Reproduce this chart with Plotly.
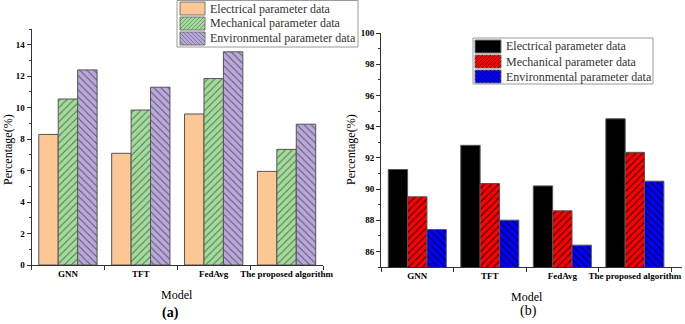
import plotly.graph_objects as go

models = ["GNN", "TFT", "FedAvg", "The proposed algorithm"]
series_names = ["Electrical parameter data", "Mechanical parameter data", "Environmental parameter data"]

# Panel (a)
a_electrical = [8.3, 7.1, 9.6, 5.95]
a_mechanical = [10.55, 9.85, 11.85, 7.35]
a_environmental = [12.4, 11.3, 13.55, 8.95]

# Panel (b)
b_electrical = [91.25, 92.8, 90.2, 94.5]
b_mechanical = [89.5, 90.35, 88.6, 92.35]
b_environmental = [87.4, 88.0, 86.4, 90.5]

W, H = 685, 324
SERIF = "Liberation Serif"

a_colors = ["#FDC795", "#A4DB9C", "#B9A8D8"]
a_hatch = [None, "#4E6E4E", "#56506E"]
b_colors = ["#000000", "#FF0000", "#0000FF"]
b_hatch = [None, "#000000", "#000000"]
shapes_ = ["", "/", "\\"]

fig = go.Figure()

for name, vals, col, hc, shp in zip(series_names, [a_electrical, a_mechanical, a_environmental],
                                     a_colors, a_hatch, shapes_):
    pat = dict(shape=shp, fgcolor=hc, bgcolor=col, size=5, solidity=0.18, fillmode="replace") if shp else None
    fig.add_trace(go.Bar(
        x=models, y=vals, name=name, xaxis="x", yaxis="y", showlegend=False,
        marker=dict(color=col, line=dict(color="#555555", width=1), pattern=pat),
    ))

for name, vals, col, hc, shp in zip(series_names, [b_electrical, b_mechanical, b_environmental],
                                     b_colors, b_hatch, shapes_):
    pat = dict(shape=shp, fgcolor=hc, bgcolor=col, size=5, solidity=0.18, fillmode="replace") if shp else None
    fig.add_trace(go.Bar(
        x=models, y=vals, name=name, xaxis="x2", yaxis="y2", showlegend=False,
        marker=dict(color=col, line=dict(color="#555555", width=1), pattern=pat),
    ))

axis_common = dict(showline=True, linecolor="#333333", linewidth=1, mirror=False,
                   showgrid=False, zeroline=False, ticks="outside", ticklen=4,
                   tickcolor="#333333", automargin=False, tickangle=0,
                   tickfont=dict(family=SERIF, size=9, color="#000000", weight="bold"))


def px_x(p):
    return p / W


def px_y(p):
    return 1 - p / H


# ---- legends drawn as boxes + swatches + labels ----
legend_shapes = []
legend_annots = []


def hatch_lines(x0, y0, x1, y1, direction, color, step=4):
    """diagonal hatch segments inside a pixel rectangle (page pixels, y down)."""
    segs = []
    w, h = x1 - x0, y1 - y0
    c = -h
    while c < w:
        ta = max(0, -c)
        tb = min(h, w - c)
        if tb > ta:
            if direction == "/":
                xa, ya = x0 + c + ta, y1 - ta
                xb, yb = x0 + c + tb, y1 - tb
            else:
                xa, ya = x0 + c + ta, y0 + ta
                xb, yb = x0 + c + tb, y0 + tb
            segs.append(f"M{px_x(xa)},{px_y(ya)} L{px_x(xb)},{px_y(yb)}")
        c += step
    return dict(type="path", xref="paper", yref="paper", path=" ".join(segs),
                line=dict(color=color, width=0.6))


def build_legend(box, sw_x, rows, colors, hatches):
    bx0, by0, bx1, by1 = box
    legend_shapes.append(dict(type="rect", xref="paper", yref="paper",
                              x0=px_x(bx0), x1=px_x(bx1), y0=px_y(by1), y1=px_y(by0),
                              line=dict(color="#9A9A9A", width=1), fillcolor="white", layer="above"))
    for (ry0, ry1), name, col, hc, shp in zip(rows, series_names, colors, hatches, shapes_):
        legend_shapes.append(dict(type="rect", xref="paper", yref="paper",
                                  x0=px_x(sw_x[0]), x1=px_x(sw_x[1]), y0=px_y(ry1), y1=px_y(ry0),
                                  line=dict(color="#777777", width=1), fillcolor=col, layer="above"))
        if shp:
            hs = hatch_lines(sw_x[0], ry0, sw_x[1], ry1, shp, hc)
            hs["layer"] = "above"
            legend_shapes.append(hs)
        legend_annots.append(dict(text=name, x=px_x(sw_x[1] + 3), y=px_y((ry0 + ry1) / 2),
                                  xref="paper", yref="paper", xanchor="left", yanchor="middle",
                                  showarrow=False,
                                  font=dict(family=SERIF, size=12, color="#333333")))


build_legend((177, 0.5, 358, 47), (180, 205), [(2, 15), (17, 30), (32, 45)], a_colors, a_hatch)
build_legend((473, 38, 653, 84), (475, 501), [(40, 53), (55, 68), (70, 83)], b_colors, b_hatch)

fig.update_layout(
    template="none",
    width=W, height=H,
    margin=dict(l=0, r=0, t=0, b=0),
    paper_bgcolor="white", plot_bgcolor="white",
    font=dict(family=SERIF),
    barmode="group", bargap=0.2, bargroupgap=0,
    showlegend=False,
    xaxis=dict(domain=[31.5/W, 323/W], anchor="y", type="category", tickson="boundaries",
               range=[-0.5, 3.5], **axis_common),
    yaxis=dict(domain=[1-265/H, 1-29/H], anchor="x", range=[0, 15], dtick=2, tick0=0,
               minor=dict(dtick=1, ticks="outside", ticklen=2, tickcolor="#333333"),
               **axis_common),
    xaxis2=dict(domain=[381/W, 682/W], anchor="y2", type="category", tickson="boundaries",
                range=[-0.5, 3.65], **axis_common),
    yaxis2=dict(domain=[1-267/H, 1-33/H], anchor="x2", range=[85, 100], dtick=2,
                tick0=86,
                minor=dict(dtick=1, ticks="outside", ticklen=2, tickcolor="#333333"),
                **axis_common),
    shapes=legend_shapes,
    annotations=legend_annots + [
        dict(text="Percentage(%)", x=8/W, y=1-150/H, xref="paper", yref="paper",
             xanchor="center", yanchor="middle",
             textangle=-90, showarrow=False, font=dict(family=SERIF, size=12, color="#000")),
        dict(text="Model", x=177/W, y=1-295/H, xref="paper", yref="paper",
             xanchor="center", yanchor="middle",
             showarrow=False, font=dict(family=SERIF, size=12, color="#000")),
        dict(text="<b>(a)</b>", x=170/W, y=1-313/H, xref="paper", yref="paper",
             xanchor="center", yanchor="middle",
             showarrow=False, font=dict(family=SERIF, size=14, color="#000")),
        dict(text="Percentage(%)", x=351/W, y=1-150/H, xref="paper", yref="paper",
             xanchor="center", yanchor="middle",
             textangle=-90, showarrow=False, font=dict(family=SERIF, size=12, color="#000")),
        dict(text="Model", x=527/W, y=1-297/H, xref="paper", yref="paper",
             xanchor="center", yanchor="middle",
             showarrow=False, font=dict(family=SERIF, size=12, color="#000")),
        dict(text="(b)", x=528/W, y=1-311/H, xref="paper", yref="paper",
             xanchor="center", yanchor="middle",
             showarrow=False, font=dict(family=SERIF, size=14, color="#000")),
    ],
)

fig.write_html("out.html", config={"displayModeBar": False},
               post_script="document.body.style.margin='0';")
